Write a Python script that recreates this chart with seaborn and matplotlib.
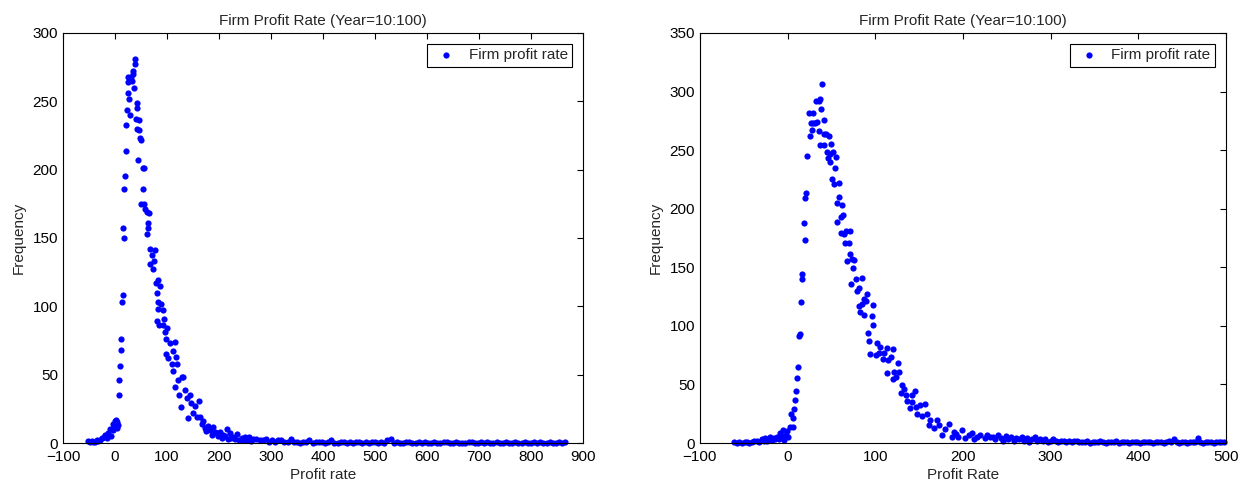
import matplotlib
matplotlib.use('Agg')
import matplotlib.pyplot as plt
import seaborn as sns
import pandas as pd

# left panel - profit rate bins and counts (peak part, then long flat tail)
left_peak_x = [-51, -48, -45, -42, -38, -35, -32, -29, -25.6, -22, -19, -16, -12.8, -9.6, -7, -4.5, -3.2, -1.3, 0.5, 2, 3.2, 4.5, 6,
               8.3, 8.3, 9.6, 10.9, 11.5, 12.8, 14.7, 16, 16.7, 18, 19, 20.5, 21.8, 23, 24.4, 24.4, 27, 28.8, 26, 29,
               31, 33, 34, 35.5, 36.5, 37.8, 38.5, 40.4, 41.7, 41.7, 42.5, 44.9, 46, 46, 48, 51, 50, 54.5, 54.5, 55.8,
               55.8, 58, 60.9, 62, 62.8, 64, 65, 67.3, 67.3, 70.5, 73.7, 75.6, 77, 78, 80, 80, 82, 82, 83, 85,
               86.5, 88.5, 93, 93, 95, 96, 98, 99, 100.6, 102.6, 105.8, 109, 112, 112, 115, 115, 117, 118.6, 121.8, 123,
               127, 128, 131, 134.6, 138, 141, 144, 147, 151, 154, 157, 162, 163, 166.7, 170, 173, 176, 179.5, 182.7, 186,
               189, 192, 195.5, 199, 202, 205, 208, 211, 214.7, 218, 221, 224, 227.6, 231, 234, 238, 243.6, 247, 250, 254,
               258, 262, 266]
left_peak_y = [1.7, 0.8, 1.7, 0.5, 1, 2, 1.7, 2.5, 3.4, 4.5, 6, 4, 7, 10, 5, 9.5, 14, 11.5, 16, 17, 11.2, 15.6, 13,
               35, 46, 56, 68, 76, 103, 108, 157, 150, 186, 195, 214, 233, 244, 256, 264, 252, 240, 268, 266,
               268, 265, 270, 272, 260, 281, 277, 237, 249, 230, 245, 207, 236, 229, 223, 222, 175, 201, 186, 201,
               175, 171, 153, 169, 161, 157, 168, 142, 131, 137.6, 127, 133, 141, 117, 110, 89, 119, 103, 98, 86,
               115, 102, 97, 86, 91, 81, 76, 65, 84, 62, 73, 58, 67, 53, 74, 41, 63, 58, 46, 35,
               26, 48.5, 48, 39, 33, 18, 35, 29, 22, 27, 19, 31, 19, 14, 16, 11, 9, 12.4, 9.5, 6,
               11.5, 8, 7, 5, 8.3, 4, 6, 5, 10, 3, 7, 4, 4.6, 3, 6.6, 2, 3.4, 2, 4.6, 2,
               4.1, 1.5, 2.7]
left_tail_x = [272, 278, 284, 290, 296, 302, 308, 314, 320, 326, 332, 338, 344, 350, 356, 362, 368, 374, 380, 386,
               392, 398, 404, 410, 416, 422, 428, 434, 440, 446, 452, 458, 464, 470, 476, 482, 488, 494, 500, 506,
               512, 518, 524, 530, 536, 542, 548, 554, 560, 566, 572, 578, 584, 590, 596, 602, 608, 614, 620, 626,
               632, 638, 644, 650, 656, 662, 668, 674, 680, 686, 692, 698, 704, 710, 716, 722, 728, 734, 740, 746,
               752, 758, 764, 770, 776, 782, 788, 794, 800, 806, 812, 818, 824, 830, 836, 842, 848, 854, 860, 866]
left_tail_y = [3, 2, 2, 3, 1, 2, 1, 2, 2, 1, 1, 3, 1, 1, 0, 1, 1, 2, 0, 1,
               1, 1, 0, 1, 2, 0, 0, 1, 1, 0, 1, 0, 1, 1, 0, 1, 0, 1, 1, 0,
               1, 0, 2, 3, 0, 1, 0, 0, 1, 1, 0, 0, 1, 0, 1, 0, 0, 1, 0, 0,
               1, 1, 0, 0, 1, 0, 0, 0, 1, 1, 0, 0, 1, 0, 1, 0, 0, 1, 0, 0,
               1, 0, 0, 1, 0, 0, 1, 0, 0, 1, 0, 1, 0, 0, 1, 0, 0, 1, 0, 1]

# right panel
right_peak_x = [-61, -57.8, -55, -52, -49, -46.5, -44, -40.8, -38, -35, -32, -29.5, -27, -25.7, -23, -20, -18, -16, -14, -12.5,
                -10, -8.7, -6.5, -5, -3.8, -2.3, -1, 0.8, 2.6, 3.8, 5.7, 6.4, 7.6, 9, 10.2, 11, 12.1, 12.9, 14, 15.9,
                16.6, 17, 18.9, 19.6, 20.4, 21.5, 22.7, 24.2, 25.3, 26.5, 28, 29, 29, 31.7, 32.9, 33.6, 35.5, 35.5, 36.7, 37.4,
                38.5, 39.3, 41.6, 41.6, 41.6, 44.2, 45, 46.2, 46.9, 48, 48, 49.9, 51, 51.8, 52.9, 53.6, 54.8, 56.3, 56.7, 58.2,
                59, 61.2, 61.2, 62.4, 63.2, 63.9, 65, 66.9, 67.6, 69.7, 70.8, 71.4, 72.6, 73.7, 74.5, 76.3, 78.2, 79, 81.3, 82,
                83, 84.6, 85, 87, 87, 89.6, 90.7, 91.5, 93.3, 94.5, 96, 97.5, 98, 101, 101.7, 104.7, 105.8, 108.5, 110, 113,
                114, 115, 118, 120, 120, 121.7, 124, 125.5, 127, 129, 131, 133, 135, 136.8, 139.5, 141.7, 142.5, 145, 146, 148,
                151, 153.8, 157, 159.5, 161, 163, 167, 170, 172.7, 176.5, 180, 184, 188, 189.7, 192, 195, 199, 203, 206.7, 210.5,
                213, 216, 220, 225.6, 228, 231]
right_peak_y = [0.5, 0.3, 1, 0, 0.5, 1, 0.3, 1, 2, 2, 0.8, 3, 1.5, 4, 2, 5.4, 2.5, 4, 3, 5.4,
                3, 8.3, 6, 11, 2.6, 6.8, 10, 5.4, 14, 25, 14, 21, 28.7, 36.7, 44.7, 55.8, 65, 91, 93, 120,
                144, 140, 188, 173, 209.5, 213.7, 245, 282, 262, 273, 267, 281.5, 273, 273.5, 292, 274, 292, 266, 254, 294,
                285, 306.5, 276, 264, 254, 264, 248, 243, 262, 247, 240, 255, 225, 248, 221, 235, 244.5, 189, 205, 222,
                210, 193, 179, 203, 195, 178, 170.5, 181, 155, 171, 161, 181, 136, 157, 149, 156, 140, 130, 117, 132.6,
                112, 141, 118.7, 122.7, 109, 121, 127, 94, 87, 76, 108, 100.7, 118, 75, 85.7, 77, 81.7, 72, 76.6, 80.8,
                59.5, 71, 73, 80, 54.6, 61, 56, 68, 61, 42.4, 49.5, 46, 41, 36, 30, 35, 41, 44.4, 31, 25,
                32.4, 23, 33, 25, 15.4, 19.6, 12.5, 20, 15.4, 6.8, 11.7, 16, 5.4, 9.7, 8, 5.4, 11, 4, 6.8, 8.3,
                3, 5.4, 6.8, 4, 7, 5.4]
right_tail_x = [234, 237, 240, 243, 246, 249, 252, 255, 258, 261, 264, 267, 270, 273, 276, 279, 282, 285, 288, 291,
                294, 297, 300, 303, 306, 309, 312, 315, 318, 321, 324, 327, 330, 333, 336, 339, 342, 345, 348, 351,
                354, 357, 360, 363, 366, 369, 372, 375, 378, 381, 384, 387, 390, 393, 396, 399, 402, 405, 408, 411,
                414, 417, 420, 423, 426, 429, 432, 435, 438, 441, 444, 447, 450, 453, 456, 459, 462, 465, 468, 471,
                474, 477, 480, 483, 486, 489, 492, 495, 498]
right_tail_y = [5, 3, 7, 4, 2, 6, 3, 5, 2, 4, 3, 5, 2, 4, 1, 3, 5, 2, 3, 2,
                3, 1, 2, 3, 2, 1, 2, 2, 1, 2, 1, 2, 2, 1, 1, 1, 2, 0, 1, 1,
                1, 2, 1, 0, 1, 1, 1, 2, 0, 1, 1, 1, 0, 1, 1, 1, 0, 1, 1, 1,
                1, 0, 1, 1, 1, 0, 1, 2, 1, 3, 1, 0, 1, 1, 0, 1, 1, 1, 4, 1,
                0, 1, 1, 1, 0, 1, 1, 1, 1]

sns.set_style('white')
plt.rcParams['font.family'] = ['Liberation Sans', 'DejaVu Sans']
plt.rcParams['font.size'] = 11

df_left = pd.DataFrame({'rate': left_peak_x + left_tail_x, 'freq': left_peak_y + left_tail_y})
df_right = pd.DataFrame({'rate': right_peak_x + right_tail_x, 'freq': right_peak_y + right_tail_y})

fig = plt.figure(figsize=(12.52, 4.88), dpi=100)
ax1 = fig.add_axes([0.0503, 0.0922, 0.4153, 0.8402])
ax2 = fig.add_axes([0.559, 0.0922, 0.4201, 0.8402])

panels = [(ax1, df_left, 'Profit rate', (-100, 900), range(-100, 901, 100), (0, 300), range(0, 301, 50)),
          (ax2, df_right, 'Profit Rate', (-100, 500), range(-100, 501, 100), (0, 350), range(0, 351, 50))]

for ax, df, xlab, xl, xt, yl, yt in panels:
    sns.scatterplot(data=df, x='rate', y='freq', ax=ax, color='#0000ff', s=20,
                    linewidth=0, label='Firm profit rate', clip_on=False)
    ax.set_xlim(*xl)
    ax.set_ylim(*yl)
    ax.set_xticks(list(xt))
    ax.set_yticks(list(yt))
    ax.tick_params(direction='in', top=True, right=True, length=4, width=0.8,
                   labelsize=11, colors='black')
    ax.tick_params(axis='x', pad=5)
    for sp in ax.spines.values():
        sp.set_color('black')
        sp.set_linewidth(0.8)
    ax.set_xlabel(xlab, fontsize=11, labelpad=3)
    ax.set_ylabel('Frequency', fontsize=11, labelpad=5)
    ax.set_title('Firm Profit Rate (Year=10:100)', fontsize=11, pad=6)
    leg = ax.legend(loc='upper right', fancybox=False, framealpha=1, edgecolor='black',
                    fontsize=11, handlelength=1.8, handletextpad=0.6,
                    borderaxespad=0.7, borderpad=0.3)
    leg.get_frame().set_linewidth(0.8)

fig.savefig('out.png', dpi=100)
